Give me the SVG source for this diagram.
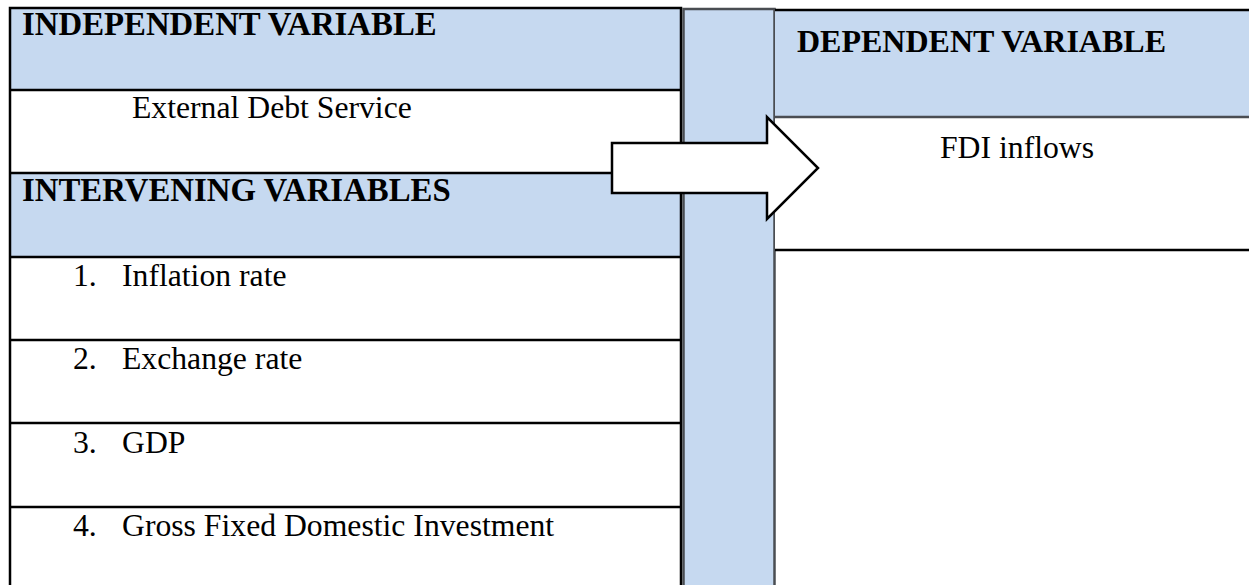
<svg xmlns="http://www.w3.org/2000/svg" width="1249" height="585" viewBox="0 0 1249 585">
  <style>
    .hdr { fill: #C6D9F0; }
    .cell { fill: #FFFFFF; }
    .rule { stroke: #000000; stroke-width: 2.5; fill: none; }
    .grey { stroke: #4A4D52; stroke-width: 2.5; fill: none; }
    .title { font-family: "Liberation Serif", "Times New Roman", serif; font-weight: bold; font-size: 32.8px; fill: #000000; }
    .label { font-family: "Liberation Serif", "Times New Roman", serif; font-size: 31.7px; fill: #000000; }
    .arrow { fill: #FFFFFF; stroke: #000000; stroke-width: 2.5; stroke-linejoin: miter; }
  </style>
  <rect x="0" y="0" width="1249" height="585" fill="#FFFFFF"/>

  <!-- Independent variable block -->
  <g id="independent">
    <rect class="hdr" x="10" y="8" width="671" height="82"/>
    <rect class="cell" x="10" y="90" width="671" height="83"/>
    <text class="title" x="22" y="35">INDEPENDENT VARIABLE</text>
    <text class="label" x="132" y="118">External Debt Service</text>
  </g>

  <!-- Intervening variables block -->
  <g id="intervening">
    <rect class="hdr" x="10" y="173" width="671" height="84"/>
    <rect class="cell" x="10" y="257" width="671" height="330"/>
    <text class="title" x="22" y="201">INTERVENING VARIABLES</text>
    <text class="label" x="73" y="286">1.</text>
    <text class="label" x="122" y="286">Inflation rate</text>
    <text class="label" x="73" y="369">2.</text>
    <text class="label" x="122" y="369">Exchange rate</text>
    <text class="label" x="73" y="453">3.</text>
    <text class="label" x="122" y="453">GDP</text>
    <text class="label" x="73" y="536">4.</text>
    <text class="label" x="122" y="536">Gross Fixed Domestic Investment</text>
  </g>

  <!-- Left column rules -->
  <g id="left-grid">
    <path class="rule" d="M10 590 V8 H681 V590"/>
    <path class="rule" d="M10 90 H681 M10 173 H681 M10 257 H681 M10 340 H681 M10 423 H681 M10 507 H681"/>
  </g>

  <!-- Middle spacer column -->
  <g id="spacer">
    <rect class="hdr" x="683" y="9" width="91" height="580"/>
    <path class="grey" d="M683.5 590 V9 H774.5 V590"/>
  </g>

  <!-- Dependent variable block -->
  <g id="dependent">
    <rect class="hdr" x="775" y="10" width="480" height="107"/>
    <rect class="cell" x="775" y="117" width="480" height="133"/>
    <path class="rule" d="M775 10 H1252"/>
    <path class="grey" d="M775 117 H1252"/>
    <path class="rule" d="M775 250 H1252"/>
    <text class="title" x="797" y="52" style="font-size:32px">DEPENDENT VARIABLE</text>
    <text class="label" x="940" y="158">FDI inflows</text>
  </g>

  <!-- Connectors -->
  <g id="connectors">
    <polygon class="arrow" points="612,143 767,143 767,117 818,168 767,219 767,193 612,193"/>
  </g>
</svg>
